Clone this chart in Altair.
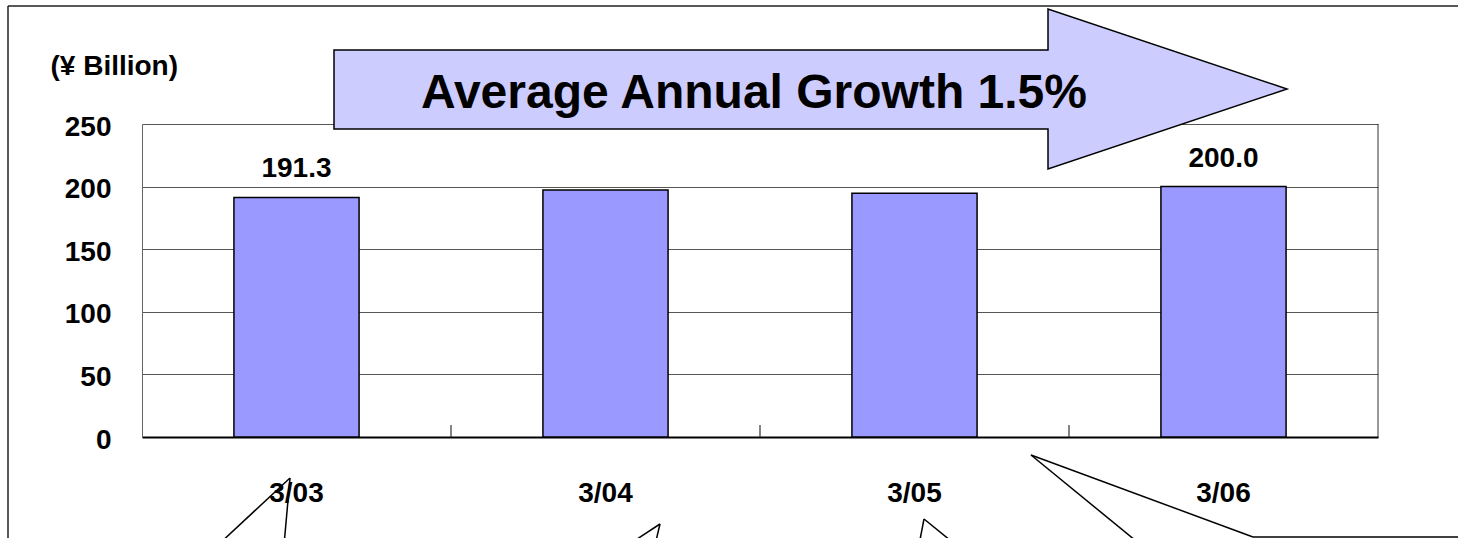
import altair as alt
import pandas as pd

# ---- data ----
categories = ["3/03", "3/04", "3/05", "3/06"]
values = [191.3, 197.3, 194.7, 200.0]
value_labels = ["191.3", "", "", "200.0"]
y_ticks = [0, 50, 100, 150, 200, 250]
unit_title = "(¥ Billion)"
arrow_text = "Average Annual Growth 1.5%"

df = pd.DataFrame({"period": categories, "value": values, "label": value_labels})
# category boundaries (between neighbouring categories) for the inner x ticks
boundaries = list(range(1, len(categories)))

# ---- layout (pixels) ----
W, H = 1236, 313
PAD_L, PAD_T, PAD_R, PAD_B = 142, 124, 80, 101
FONT = "Liberation Sans"
TICK_LEN = 12

# decoration geometry in page pixels (converted to plot-relative below)
arrow_pts = [(334, 50), (1048, 50), (1048, 9), (1287, 89), (1048, 169), (1048, 129), (334, 129)]
callout_segs = [
    (218, 545, 290, 478), (284, 545, 290, 478),
    (628, 545, 660, 524), (655, 545, 660, 524),
    (919, 545, 924, 519), (956, 545, 924, 519),
    (1141, 545, 1031, 455), (1253, 537, 1031, 455),
    (1253, 537, 1470, 537),
]
frame_segs = [(8, 6, 1470, 6), (8, 6, 8, 545)]


def rel(px, py):
    return px - PAD_L, py - PAD_T


one = pd.DataFrame({"k": [0]})

x_enc = alt.X(
    "period:N",
    sort=categories,
    scale=alt.Scale(domain=categories, paddingInner=0.595, paddingOuter=0.2975),
    axis=alt.Axis(
        title=None, labelAngle=0, labelFont=FONT, labelFontSize=28, labelFontWeight="bold",
        labelColor="black", labelPadding=42, ticks=False, tickSize=0,
        domainColor="black", domainWidth=2, grid=False,
    ),
)
y_enc = alt.Y(
    "value:Q",
    scale=alt.Scale(domain=[0, 250], nice=False),
    axis=alt.Axis(
        values=y_ticks, format="d", title=unit_title, titleAngle=0, titleAlign="left",
        titleBaseline="alphabetic", titleX=-92, titleY=-50, titleFont=FONT, titleFontSize=28,
        titleFontWeight="bold", titleColor="black", labelFont=FONT, labelFontSize=28,
        labelFontWeight="bold", labelColor="black", labelPadding=31, labelOffset=3,
        ticks=False, tickSize=0, grid=True, gridColor="#555555", gridWidth=1,
        domainColor="#666666", domainWidth=1,
    ),
)

bars = alt.Chart(df).mark_bar(fill="#9999FF", stroke="black", strokeWidth=1.5).encode(x=x_enc, y=y_enc)

labels = alt.Chart(df).mark_text(
    font=FONT, fontSize=28, fontWeight="bold", color="black", baseline="alphabetic", dy=-20
).encode(x=alt.X("period:N", sort=categories), y="value:Q", text="label:N")

main = alt.layer(bars, labels)

cat_ticks = alt.Chart(pd.DataFrame({"b": boundaries})).mark_rule(color="#333333", strokeWidth=1.2).encode(
    x=alt.X("b:Q", scale=alt.Scale(domain=[0, len(categories)], nice=False, zero=False), axis=None),
    y=alt.value(H - TICK_LEN),
    y2=alt.value(H),
)

deco = []
for (x1, y1, x2, y2) in frame_segs:
    a, b = rel(x1, y1)
    c, d = rel(x2, y2)
    deco.append(alt.Chart(one).mark_rule(color="#222222", strokeWidth=1.5).encode(
        x=alt.value(a), y=alt.value(b), x2=alt.value(c), y2=alt.value(d)))
for (x1, y1, x2, y2) in callout_segs:
    a, b = rel(x1, y1)
    c, d = rel(x2, y2)
    deco.append(alt.Chart(one).mark_rule(color="black", strokeWidth=1.5).encode(
        x=alt.value(a), y=alt.value(b), x2=alt.value(c), y2=alt.value(d)))

right_border = alt.Chart(one).mark_rule(color="#333333", strokeWidth=1).encode(
    x=alt.value(W), y=alt.value(0), y2=alt.value(H))

rel_pts = [rel(px, py) for px, py in arrow_pts]
arrow_path = "M" + " L".join(f"{px},{py}" for px, py in rel_pts) + " Z"
arrow = alt.Chart(one).mark_point(
    shape=arrow_path, size=4, filled=True, fill="#CCCCFF", stroke="black",
    strokeWidth=1.5, opacity=1,
).encode(x=alt.value(0), y=alt.value(0))

tx, ty = rel(754, 108)
arrow_label = alt.Chart(one).mark_text(
    text=arrow_text, font=FONT, fontSize=48, fontWeight="bold", color="black",
    align="center", baseline="alphabetic",
).encode(x=alt.value(tx), y=alt.value(ty))

chart = alt.layer(*deco, main, cat_ticks, right_border, arrow, arrow_label).resolve_scale(
    x="independent"
).properties(
    width=W, height=H,
    autosize=alt.AutoSizeParams(type="none"),
    padding={"left": PAD_L, "top": PAD_T, "right": PAD_R, "bottom": PAD_B},
    background="white",
).configure_view(stroke="transparent")

chart.save("out.html", embed_options={"renderer": "svg", "actions": False})
